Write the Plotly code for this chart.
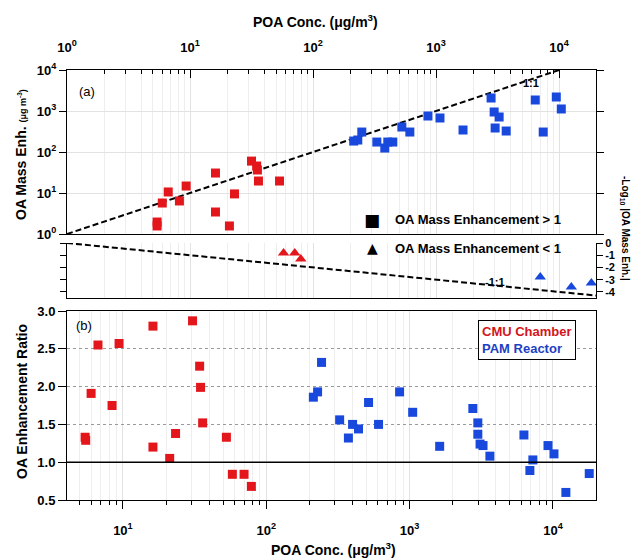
import plotly.graph_objects as go

# ---------------- data ----------------
# Panel (a), OA Mass Enhancement > 1 (squares)
red_a_x = [5.4, 5.4, 5.95, 6.65, 8.2, 9.3, 16.1, 16.1, 20.9, 23.0, 31.6, 34.8, 35.3, 36.0, 53.4]
red_a_y = [1.96, 1.57, 5.7, 10.6, 6.4, 14.8, 30.7, 3.44, 1.57, 9.5, 60, 45.5, 36.4, 19.6, 19.6]
blue_a_x = [214, 231, 249, 330, 383, 405, 445, 527, 612, 859, 1076, 1656, 2800, 2965, 3256,
            3020, 3715, 6400, 7430, 9490, 10420]
blue_a_y = [185, 196, 307, 175, 125, 175, 175, 407, 307, 755, 675, 344, 2075, 946, 714,
            385, 325, 1855, 307, 2195, 1120]

# Panel (a) lower part, OA Mass Enhancement < 1 (triangles), -log10|enh|
red_t_x = [57.6, 71, 79.5]
red_t_y = [-0.82, -0.82, -1.31]
blue_t_x = [7030, 12570, 18300]
blue_t_y = [-2.79, -3.6, -3.28]

# 1:1 reference lines
one_x = [1, 10000]
one_y = [1, 10000]
neg_x = [1, 20000]
neg_y = [0, -4.301]

# Panel (b), OA Enhancement Ratio
red_b_x = [5.45, 5.5, 6.0, 6.7, 8.4, 9.4, 16.2, 16.2, 21.2, 23.3, 30.6, 34.3, 34.8, 36.0,
           52.7, 58, 70, 78.7]
red_b_y = [1.33, 1.29, 1.91, 2.55, 1.75, 2.57, 1.20, 2.80, 1.05, 1.38, 2.87, 2.27, 1.99, 1.52,
           1.33, 0.84, 0.84, 0.68]
blue_b_x = [213, 228, 243, 325, 374, 400, 440, 517, 607, 851, 1050, 1620, 2760, 2990, 2990,
            3100, 3250, 3630, 6270, 7240, 6900, 9230, 10160, 12300, 17900]
blue_b_y = [1.86, 1.93, 2.32, 1.56, 1.32, 1.50, 1.44, 1.79, 1.50, 1.93, 1.66, 1.21, 1.71, 1.52,
            1.37, 1.24, 1.22, 1.08, 1.36, 1.03, 0.89, 1.22, 1.11, 0.60, 0.85]

# tick labels
log_top_vals = [1, 10, 100, 1000, 10000]
log_top_text = ["10<sup>0</sup>", "10<sup>1</sup>", "10<sup>2</sup>", "10<sup>3</sup>", "10<sup>4</sup>"]
log_bot_vals = [10, 100, 1000, 10000]
log_bot_text = ["10<sup>1</sup>", "10<sup>2</sup>", "10<sup>3</sup>", "10<sup>4</sup>"]
ratio_vals = [0.5, 1.0, 1.5, 2.0, 2.5, 3.0]
ratio_text = ["0.5", "1.0", "1.5", "2.0", "2.5", "3.0"]
neg_vals = [0, -1, -2, -3, -4]
neg_text = ["0", "-1", "-2", "-3", "-4"]
minor_vals = [m * 10 ** e for e in range(0, 5) for m in range(2, 10)]

# ---------------- style ----------------
W, H = 634, 558
L, R, T, B = 67, 38, 70, 58
PW, PH = W - L - R, H - T - B
FONT = "Liberation Sans, Arial, sans-serif"
RED = "#e3161b"
BLUE = "#1849dc"
GRID = "#e2e2e2"
GRID_MINOR = "#eeeeee"


def pxx(x):
    return (x - L) / PW


def pxy(y):
    return (H - B - y) / PH


bold = dict(family=FONT, size=13, color="black", weight="bold")

fig = go.Figure()
sq = dict(symbol="square", size=9, line=dict(width=0))
tri = dict(symbol="triangle-up", size=10, line=dict(width=0))

# top panel (log-log)
fig.add_trace(go.Scatter(x=one_x, y=one_y, mode="lines", xaxis="x2", yaxis="y2",
                         line=dict(color="black", width=2, dash="6px,3px")))
fig.add_trace(go.Scatter(x=red_a_x, y=red_a_y, mode="markers", xaxis="x2", yaxis="y2",
                         marker=dict(color=RED, **sq)))
fig.add_trace(go.Scatter(x=blue_a_x, y=blue_a_y, mode="markers", xaxis="x2", yaxis="y2",
                         marker=dict(color=BLUE, **sq)))
# lower sub-panel
fig.add_trace(go.Scatter(x=neg_x, y=neg_y, mode="lines", xaxis="x3", yaxis="y3",
                         line=dict(color="black", width=2, dash="6px,3px")))
fig.add_trace(go.Scatter(x=red_t_x, y=red_t_y, mode="markers", xaxis="x3", yaxis="y3",
                         marker=dict(color=RED, **tri)))
fig.add_trace(go.Scatter(x=blue_t_x, y=blue_t_y, mode="markers", xaxis="x3", yaxis="y3",
                         marker=dict(color=BLUE, **tri)))
# panel b
fig.add_trace(go.Scatter(x=red_b_x, y=red_b_y, mode="markers", xaxis="x", yaxis="y",
                         marker=dict(color=RED, **sq)))
fig.add_trace(go.Scatter(x=blue_b_x, y=blue_b_y, mode="markers", xaxis="x", yaxis="y",
                         marker=dict(color=BLUE, **sq)))

TOP_RANGE = [0, 4.30]
BOT_RANGE = [0.61, 4.30]

fig.update_layout(
    width=W, height=H, margin=dict(l=L, r=R, t=T, b=B),
    paper_bgcolor="white", plot_bgcolor="white", showlegend=False,
    font=dict(family=FONT, color="black"),
    xaxis=dict(domain=[0, 1], type="log", range=BOT_RANGE, anchor="y",
               tickmode="array", tickvals=log_bot_vals, ticktext=log_bot_text,
               ticks="outside", ticklen=8, tickwidth=1, tickcolor="black",
               ticklabelstandoff=10, tickfont=bold,
               minor=dict(tickmode="array", tickvals=minor_vals, ticks="outside", ticklen=4,
                          tickcolor="black", showgrid=True, gridcolor=GRID_MINOR),
               showgrid=True, gridcolor=GRID, showline=True, linecolor="black", linewidth=1,
               mirror=True, zeroline=False),
    yaxis=dict(domain=[0, pxy(311)], range=[0.5, 3.0], anchor="x",
               tickmode="array", tickvals=ratio_vals, ticktext=ratio_text,
               ticks="outside", ticklen=8, tickcolor="black", tickfont=bold,
               showgrid=True, gridcolor="#9a9a9a", griddash="dot", gridwidth=1,
               showline=True, linecolor="black", linewidth=1, mirror=True, zeroline=False),
    xaxis2=dict(domain=[0, 1], type="log", range=TOP_RANGE, anchor="y2", side="top",
                tickmode="array", tickvals=log_top_vals, ticktext=log_top_text,
                ticks="inside", ticklen=8, tickcolor="black", tickfont=bold,
                ticklabelstandoff=12,
                minor=dict(tickmode="array", tickvals=minor_vals, ticks="inside", ticklen=4,
                           tickcolor="black", showgrid=True, gridcolor=GRID_MINOR),
                showgrid=True, gridcolor=GRID, showline=True, linecolor="black", linewidth=1,
                mirror=True, zeroline=False),
    yaxis2=dict(domain=[pxy(234), 1], type="log", range=[0, 4], anchor="x2",
                tickmode="array", tickvals=log_top_vals, ticktext=log_top_text,
                ticks="outside", ticklen=7, tickcolor="black", tickfont=bold,
                showgrid=True, gridcolor=GRID, showline=True, linecolor="black", linewidth=1,
                mirror="ticks", zeroline=False),
    xaxis3=dict(domain=[0, 1], type="log", range=TOP_RANGE, anchor="y3", matches="x2",
                showticklabels=False, ticks="",
                minor=dict(tickmode="array", tickvals=minor_vals, ticks="",
                           showgrid=True, gridcolor=GRID_MINOR),
                tickmode="array", tickvals=log_top_vals,
                showgrid=True, gridcolor=GRID, showline=True, linecolor="black", linewidth=1,
                mirror=False, zeroline=False),
    yaxis3=dict(domain=[pxy(298), pxy(243)], range=[-4.5, 0], anchor="x3", side="right",
                tickmode="array", tickvals=neg_vals, ticktext=neg_text,
                ticks="outside", ticklen=6, tickcolor="black",
                tickfont=dict(family=FONT, size=11, color="black", weight="bold"),
                showgrid=False, showline=True, linecolor="black", linewidth=1,
                mirror="ticks", zeroline=False),
)

# horizontal line at ratio = 1
fig.add_shape(type="line", xref="x domain", yref="y", x0=0, x1=1, y0=1, y1=1,
              line=dict(color="black", width=1.5))

ann = []
# axis titles
ann.append(dict(x=pxx(315), y=pxy(21), text="POA Conc. (μg/m<sup>3</sup>)",
                font=dict(family=FONT, size=14, color="black", weight="bold")))
ann.append(dict(x=pxx(333), y=pxy(549), text="POA Conc. (μg/m<sup>3</sup>)",
                font=dict(family=FONT, size=14, color="black", weight="bold")))
ann.append(dict(x=pxx(21), y=pxy(155), textangle=-90,
                text="OA Mass Enh. <span style='font-size:9px'>(μg m<sup>-3</sup>)</span>",
                font=dict(family=FONT, size=14, color="black", weight="bold")))
ann.append(dict(x=pxx(22), y=pxy(402), textangle=-90, text="OA Enhancement Ratio",
                font=dict(family=FONT, size=14, color="black", weight="bold")))
ann.append(dict(x=pxx(625), y=pxy(228), textangle=90,
                text="-Log<sub>10</sub> |OA Mass Enh.|",
                font=dict(family=FONT, size=10, color="black", weight="bold")))
# panel labels
ann.append(dict(x=pxx(87), y=pxy(92), text="(a)",
                font=dict(family=FONT, size=13, color="black")))
ann.append(dict(x=pxx(84), y=pxy(325), text="(b)",
                font=dict(family=FONT, size=13, color="black")))
# 1:1 labels
ann.append(dict(x=pxx(531), y=pxy(83), text="1:1",
                font=dict(family=FONT, size=11, color="black", weight="bold")))
ann.append(dict(x=pxx(495), y=pxy(282), text="-1:1",
                font=dict(family=FONT, size=11, color="black", weight="bold")))
# symbol legend of panel a
ann.append(dict(x=pxx(372), y=pxy(220), text="■",
                font=dict(family="DejaVu Sans", size=17, color="black")))
ann.append(dict(x=pxx(393), y=pxy(220), xanchor="left", text="OA Mass Enhancement > 1",
                font=dict(family=FONT, size=13, color="black", weight="bold")))
ann.append(dict(x=pxx(372), y=pxy(248), text="▲",
                font=dict(family="DejaVu Sans", size=14, color="black")))
ann.append(dict(x=pxx(393), y=pxy(248), xanchor="left", text="OA Mass Enhancement < 1",
                font=dict(family=FONT, size=13, color="black", weight="bold")))
# colour legend of panel b
ann.append(dict(x=pxx(527), y=pxy(340), align="left",
                text="<span style='color:#d41520'>CMU Chamber</span><br>"
                     "<span style='color:#1d3fc4'>PAM Reactor</span>",
                bordercolor="black", borderwidth=1, borderpad=3, bgcolor="white",
                font=dict(family=FONT, size=13, weight="bold")))

for a in ann:
    a.setdefault("xref", "paper")
    a.setdefault("yref", "paper")
    a.setdefault("showarrow", False)
    a.setdefault("xanchor", "center")
    a.setdefault("yanchor", "middle")
    fig.add_annotation(**a)

fig.write_html("out.html")
